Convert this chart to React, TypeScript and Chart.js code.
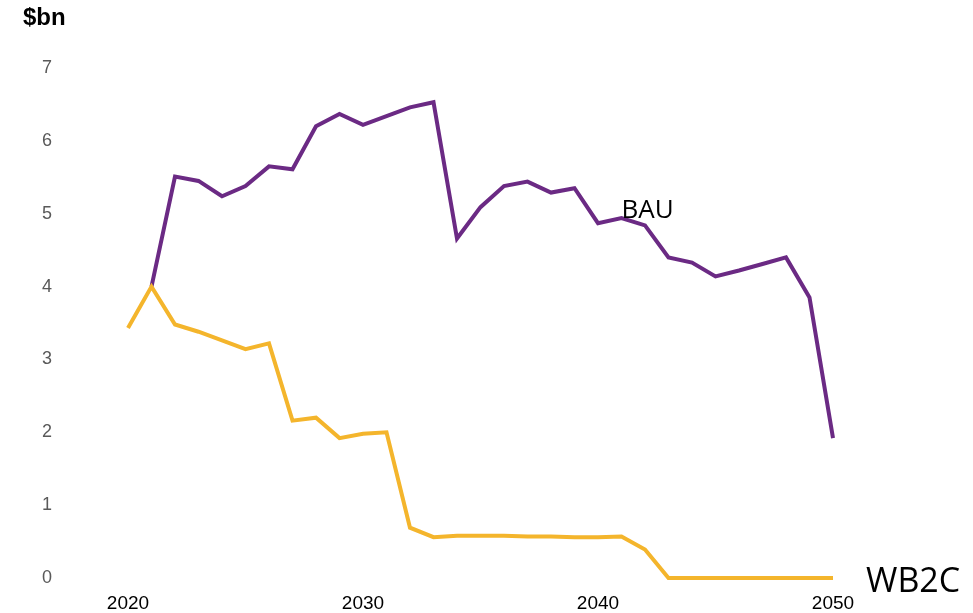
import React, { useEffect, useRef } from "react";
import { Chart, registerables } from "chart.js";

Chart.register(...registerables);

const years: string[] = [
  "2020", "2021", "2022", "2023", "2024", "2025", "2026", "2027", "2028", "2029",
  "2030", "2031", "2032", "2033", "2034", "2035", "2036", "2037", "2038", "2039",
  "2040", "2041", "2042", "2043", "2044", "2045", "2046", "2047", "2048", "2049",
  "2050",
];

const bau: (number | null)[] = [
  null, 4.0, 5.51, 5.45, 5.24, 5.38, 5.65, 5.61, 6.2, 6.37,
  6.22, 6.34, 6.46, 6.53, 4.66, 5.09, 5.38, 5.44, 5.29, 5.35,
  4.87, 4.94, 4.84, 4.4, 4.33, 4.14, 4.22, 4.31, 4.4, 3.85,
  1.92,
];

const wb2c: number[] = [
  3.43, 4.0, 3.48, 3.38, 3.26, 3.14, 3.22, 2.16, 2.2, 1.92,
  1.98, 2.0, 0.69, 0.56, 0.58, 0.58, 0.58, 0.57, 0.57, 0.56,
  0.56, 0.57, 0.39, 0, 0, 0, 0, 0, 0, 0,
  0,
];

const tickYears = ["2020", "2030", "2040", "2050"];
const unitLabel = "$bn";
const bauLabel = "BAU";
const wb2cLabel = "WB2C";

const PURPLE = "#6b2a84";
const YELLOW = "#f4b52c";

const labelsPlugin = {
  id: "seriesLabels",
  afterDraw(chart: any) {
    const { ctx, scales } = chart;
    const xs = scales.x;
    const ys = scales.y;
    ctx.save();
    ctx.fillStyle = "#000";
    ctx.textBaseline = "alphabetic";
    ctx.textAlign = "left";
    ctx.font = 'bold 24px "Liberation Sans", Arial, sans-serif';
    ctx.fillText(unitLabel, 23, 25);
    ctx.font = '26px "Open Sans", "Noto Sans", sans-serif';
    ctx.fillText(bauLabel, xs.getPixelForValue(years.indexOf("2041")), ys.getPixelForValue(4.94));
    ctx.font = '34px "Open Sans", "Noto Sans", sans-serif';
    ctx.fillText(wb2cLabel, xs.getPixelForValue(years.length - 1) + 33, ys.getPixelForValue(0) + 14);
    ctx.restore();
  },
};

export default function App() {
  const ref = useRef<HTMLCanvasElement | null>(null);

  useEffect(() => {
    if (!ref.current) return;
    const chart = new Chart(ref.current, {
      type: "line",
      data: {
        labels: years,
        datasets: [
          {
            label: "WB2C",
            data: wb2c,
            borderColor: YELLOW,
            backgroundColor: YELLOW,
            borderWidth: 4,
            pointRadius: 0,
            tension: 0,
            clip: 6,
          },
          {
            label: "BAU",
            data: bau,
            borderColor: PURPLE,
            backgroundColor: PURPLE,
            borderWidth: 4,
            pointRadius: 0,
            tension: 0,
            clip: 6,
          },
        ],
      },
      options: {
        responsive: false,
        animation: false,
        layout: { padding: { top: 68, right: 140, left: 42, bottom: 0 } },
        plugins: {
          legend: { display: false },
          tooltip: { enabled: false },
          title: { display: false },
        },
        scales: {
          x: {
            type: "category",
            offset: false,
            grid: { display: false, drawTicks: false },
            border: { display: false },
            afterFit: (s: any) => {
              s.height = 35;
            },
            ticks: {
              autoSkip: false,
              maxRotation: 0,
              padding: 14,
              color: "#000",
              font: { family: '"Liberation Sans", Arial, sans-serif', size: 19 },
              callback: (_v: any, i: number) => (tickYears.includes(years[i]) ? years[i] : ""),
            },
          },
          y: {
            min: 0,
            max: 7,
            grid: { display: false, drawTicks: false },
            border: { display: false },
            afterFit: (s: any) => {
              s.width = 86;
            },
            ticks: {
              stepSize: 1,
              padding: 0,
              crossAlign: "far",
              color: "#595959",
              font: { family: '"Liberation Sans", Arial, sans-serif', size: 18 },
            },
          },
        },
      },
      plugins: [labelsPlugin],
    });
    return () => chart.destroy();
  }, []);

  return (
    <div style={{ position: "absolute", left: 0, top: 0, width: 973, height: 613, background: "#fff" }}>
      <canvas ref={ref} width={973} height={613} style={{ display: "block" }} />
    </div>
  );
}
